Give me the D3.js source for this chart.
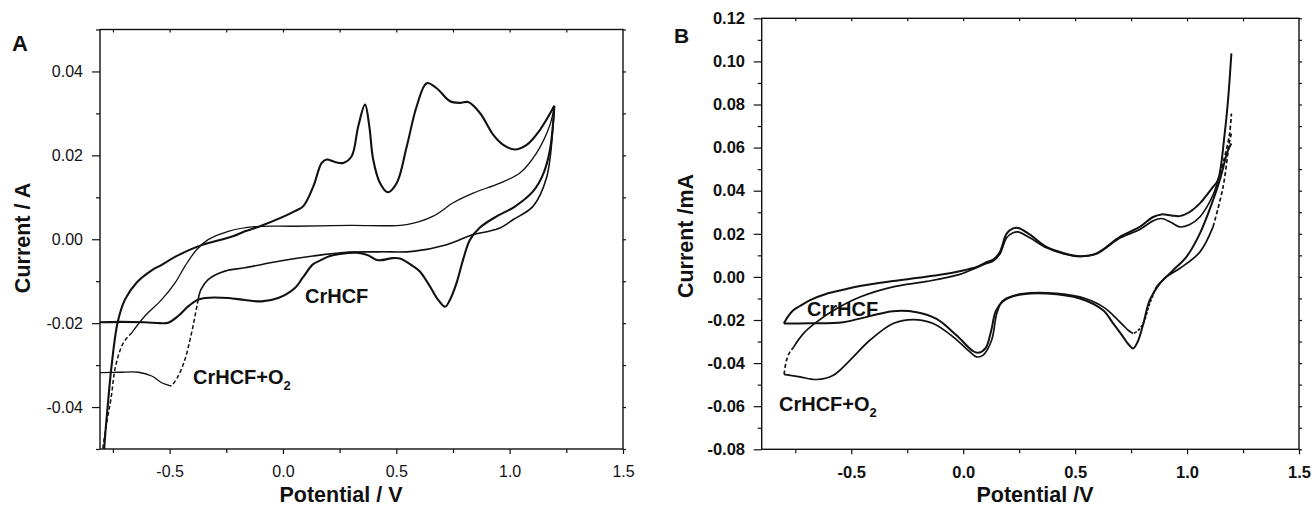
<!DOCTYPE html>
<html>
<head>
<meta charset="utf-8">
<script src="https://cdnjs.cloudflare.com/ajax/libs/d3/7.8.5/d3.min.js"></script>
<style>
  body { margin: 0; background: #fff; }
  svg { display: block; font-family: "Liberation Sans", Arial, Helvetica, sans-serif; }
</style>
</head>
<body>
<div id="chart"></div>
<script>
// ---- panel A : current (A) vs potential (V) ----
var aXTicks = [-0.5, 0.0, 0.5, 1.0, 1.5];
var aXMinor = [-0.75, -0.25, 0.25, 0.75, 1.25];
var aYTicks = [-0.04, -0.02, 0.00, 0.02, 0.04];
var aYMinor = [-0.05, -0.03, -0.01, 0.01, 0.03, 0.05];

// CrHCF, forward (anodic) scan
var aCrAnodic = [
  [-0.792, -0.056], [-0.788, -0.0496], [-0.773, -0.0398], [-0.756, -0.0302], [-0.729, -0.0198],
  [-0.697, -0.0144], [-0.645, -0.0103], [-0.579, -0.0074], [-0.535, -0.0061], [-0.476, -0.0042],
  [-0.374, -0.0017], [-0.221, 0.0007], [-0.168, 0.0019], [-0.101, 0.0031], [0.053, 0.0067],
  [0.090, 0.0079], [0.134, 0.0126], [0.171, 0.0182], [0.193, 0.0190], [0.230, 0.0184],
  [0.266, 0.0182], [0.303, 0.0198], [0.332, 0.0269], [0.362, 0.0321], [0.381, 0.0269],
  [0.398, 0.0190], [0.428, 0.0134], [0.462, 0.0112], [0.502, 0.0134], [0.546, 0.0221],
  [0.590, 0.0317], [0.634, 0.0372], [0.678, 0.0360], [0.737, 0.0329], [0.781, 0.0325],
  [0.817, 0.0327], [0.869, 0.0301], [0.928, 0.0249], [0.972, 0.0225], [1.023, 0.0214],
  [1.075, 0.0225], [1.134, 0.0261], [1.197, 0.0318]
];
// CrHCF, reverse (cathodic) scan, from 1.2 V back
var aCrCathodic = [
  [1.197, 0.0318], [1.178, 0.0214], [1.147, 0.0154], [1.103, 0.0114], [1.023, 0.0078],
  [0.944, 0.0055], [0.869, 0.0028], [0.825, -0.0001], [0.795, -0.0048], [0.766, -0.0104],
  [0.737, -0.0144], [0.715, -0.0161], [0.684, -0.0144], [0.648, -0.0112], [0.604, -0.0077],
  [0.573, -0.0064], [0.516, -0.0046], [0.485, -0.0045], [0.419, -0.0050], [0.375, -0.0038],
  [0.325, -0.0032], [0.251, -0.0035], [0.207, -0.0040], [0.163, -0.0051], [0.132, -0.0060],
  [0.088, -0.0091], [0.053, -0.0116], [-0.021, -0.0140], [-0.094, -0.0148], [-0.168, -0.0145],
  [-0.241, -0.0140], [-0.344, -0.0140], [-0.374, -0.0144], [-0.418, -0.0160], [-0.462, -0.0183],
  [-0.506, -0.0199], [-0.543, -0.0200], [-0.609, -0.0198], [-0.719, -0.0197], [-0.807, -0.0198],
  [-0.850, -0.0198]
];
// CrHCF + O2, anodic
var aO2Anodic = [
  [-0.800, -0.056], [-0.794, -0.0498], [-0.775, -0.0430], [-0.759, -0.0382], [-0.738, -0.0302],
  [-0.704, -0.0247], [-0.667, -0.0223], [-0.609, -0.0183], [-0.535, -0.0144], [-0.476, -0.0104],
  [-0.432, -0.0064], [-0.381, -0.0025], [-0.330, -0.0001], [-0.241, 0.0019], [-0.124, 0.0030],
  [0.053, 0.0031], [0.296, 0.0033], [0.546, 0.0035], [0.663, 0.0055], [0.751, 0.0087],
  [0.839, 0.0110], [0.957, 0.0134], [1.045, 0.0158], [1.119, 0.0206], [1.178, 0.0273],
  [1.197, 0.0318]
];
// CrHCF + O2, cathodic
var aO2Cathodic = [
  [1.197, 0.0318], [1.192, 0.0273], [1.163, 0.0147], [1.104, 0.0079], [1.016, 0.0047],
  [0.957, 0.0027], [0.899, 0.0018], [0.838, 0.0011], [0.722, -0.0013], [0.573, -0.0029],
  [0.428, -0.0030], [0.281, -0.0031], [0.132, -0.0040], [-0.013, -0.0052], [-0.168, -0.0068],
  [-0.256, -0.0076], [-0.330, -0.0096], [-0.362, -0.0120], [-0.374, -0.0144], [-0.403, -0.0223],
  [-0.432, -0.0286], [-0.462, -0.0326], [-0.491, -0.0350], [-0.535, -0.0342], [-0.579, -0.0326],
  [-0.638, -0.0317], [-0.719, -0.0317], [-0.807, -0.0318], [-0.850, -0.0318]
];

// ---- panel B : current (mA) vs potential (V) ----
var bXTicks = [-0.5, 0.0, 0.5, 1.0, 1.5];
var bXMinor = [-0.75, -0.25, 0.25, 0.75, 1.25];
var bYTicks = [-0.08, -0.06, -0.04, -0.02, 0.00, 0.02, 0.04, 0.06, 0.08, 0.10, 0.12];
var bYMinor = [-0.07, -0.05, -0.03, -0.01, 0.01, 0.03, 0.05, 0.07, 0.09, 0.11];

var bCrAnodic = [
  [-0.801, -0.0216], [-0.785, -0.0188], [-0.759, -0.0155], [-0.729, -0.0135], [-0.684, -0.0108],
  [-0.610, -0.0078], [-0.536, -0.0060], [-0.461, -0.0042], [-0.313, -0.0019], [-0.200, -0.0004],
  [-0.089, 0.0012], [0.000, 0.0030], [0.060, 0.0046], [0.104, 0.0068], [0.134, 0.0080],
  [0.164, 0.0116], [0.194, 0.0201], [0.223, 0.0225], [0.246, 0.0227], [0.300, 0.0195],
  [0.372, 0.0139], [0.450, 0.0110], [0.521, 0.0096], [0.595, 0.0109], [0.700, 0.0186],
  [0.789, 0.0232], [0.848, 0.0278], [0.886, 0.0290], [0.930, 0.0285], [0.967, 0.0282],
  [1.010, 0.0300], [1.057, 0.0341], [1.116, 0.0418], [1.138, 0.0449], [1.168, 0.0665],
  [1.183, 0.0820], [1.198, 0.1037]
];
var bCrCathodic = [
  [1.198, 0.0619], [1.183, 0.0588], [1.146, 0.0449], [1.116, 0.0356], [1.057, 0.0201],
  [0.997, 0.0093], [0.938, 0.0031], [0.878, -0.0031], [0.833, -0.0108], [0.804, -0.0220],
  [0.780, -0.0300], [0.759, -0.0332], [0.740, -0.0315], [0.714, -0.0278], [0.670, -0.0216],
  [0.625, -0.0155], [0.521, -0.0100], [0.372, -0.0077], [0.268, -0.0080], [0.210, -0.0095],
  [0.175, -0.0115], [0.145, -0.0160], [0.125, -0.0250], [0.100, -0.0330], [0.067, -0.0352],
  [0.045, -0.0345], [-0.030, -0.0271], [-0.119, -0.0195], [-0.208, -0.0164], [-0.313, -0.0159],
  [-0.417, -0.0182], [-0.536, -0.0210], [-0.684, -0.0215], [-0.801, -0.0216]
];
var bO2Anodic = [
  [-0.800, -0.0452], [-0.790, -0.0390], [-0.775, -0.0350], [-0.759, -0.0328], [-0.714, -0.0263],
  [-0.654, -0.0209], [-0.565, -0.0147], [-0.461, -0.0093], [-0.313, -0.0046], [-0.163, -0.0021],
  [-0.015, 0.0012], [0.060, 0.0043], [0.104, 0.0062], [0.134, 0.0074], [0.164, 0.0106],
  [0.194, 0.0182], [0.223, 0.0205], [0.246, 0.0209], [0.300, 0.0180], [0.372, 0.0135],
  [0.450, 0.0107], [0.521, 0.0095], [0.595, 0.0106], [0.700, 0.0180], [0.789, 0.0220],
  [0.848, 0.0260], [0.886, 0.0271], [0.930, 0.0252], [0.967, 0.0232], [1.010, 0.0242],
  [1.057, 0.0278], [1.116, 0.0380], [1.138, 0.0449], [1.168, 0.0557], [1.190, 0.0665],
  [1.198, 0.0758]
];
var bO2Cathodic = [
  [1.198, 0.0665], [1.190, 0.0630], [1.161, 0.0418], [1.116, 0.0232], [1.057, 0.0115],
  [0.967, 0.0039], [0.908, 0.0000], [0.863, -0.0046], [0.833, -0.0124], [0.804, -0.0216],
  [0.780, -0.0250], [0.759, -0.0263], [0.740, -0.0250], [0.714, -0.0224], [0.670, -0.0178],
  [0.625, -0.0139], [0.521, -0.0093], [0.372, -0.0074], [0.268, -0.0078], [0.210, -0.0092],
  [0.175, -0.0112], [0.150, -0.0170], [0.127, -0.0294], [0.089, -0.0363], [0.060, -0.0371],
  [0.030, -0.0348], [-0.045, -0.0278], [-0.134, -0.0216], [-0.223, -0.0198], [-0.313, -0.0216],
  [-0.417, -0.0294], [-0.506, -0.0387], [-0.580, -0.0456], [-0.654, -0.0476], [-0.729, -0.0464],
  [-0.800, -0.0452]
];

var w = 1312;
var h = 509;

var svg = d3.select("#chart")
  .append("svg")
  .attr("width", w)
  .attr("height", h);

// draws the frame, ticks and tick labels of one panel, returns the clipped group for curves
function drawFrame(p) {
  var g = svg.append("g");

  g.append("clipPath").attr("id", p.id + "-clip")
    .append("rect")
    .attr("x", p.left).attr("y", p.top)
    .attr("width", p.right - p.left).attr("height", p.bottom - p.top);

  var allY = p.yTicks.concat(p.yMinor);
  var topX = p.xTicks.concat(p.xMinor).filter(function(d) { return d < p.xDomain[1]; });

  function clean(sel) {
    sel.select(".domain").remove();
    sel.selectAll("line").attr("stroke", "#111").attr("stroke-width", 1.2);
  }

  // left: labelled majors + short minors
  g.append("g").attr("transform", "translate(" + p.left + ",0)")
    .call(d3.axisLeft(p.y).tickValues(p.yTicks).tickSize(8).tickPadding(p.yPad)
      .tickFormat(function(d) { return d.toFixed(2); }))
    .call(clean)
    .selectAll("text")
      .attr("font-family", null)
      .style("font-size", p.tickFont + "px")
      .style("font-weight", p.tickWeight)
      .attr("fill", "#111");
  g.append("g").attr("transform", "translate(" + p.left + ",0)")
    .call(d3.axisLeft(p.y).tickValues(p.yMinor).tickSize(4).tickFormat(""))
    .call(clean);

  // bottom
  g.append("g").attr("transform", "translate(0," + p.bottom + ")")
    .call(d3.axisBottom(p.x).tickValues(p.xTicks).tickSize(5).tickPadding(p.xPad)
      .tickFormat(function(d) { return d.toFixed(1); }))
    .call(clean)
    .selectAll("text")
      .attr("font-family", null)
      .style("font-size", p.tickFont + "px")
      .style("font-weight", p.tickWeight)
      .attr("fill", "#111");
  g.append("g").attr("transform", "translate(0," + p.bottom + ")")
    .call(d3.axisBottom(p.x).tickValues(p.xMinor).tickSize(4).tickFormat(""))
    .call(clean);

  // right and top: small unlabelled ticks
  g.append("g").attr("transform", "translate(" + p.right + ",0)")
    .call(d3.axisRight(p.y).tickValues(allY).tickSize(3).tickFormat(""))
    .call(clean);
  g.append("g").attr("transform", "translate(0," + p.top + ")")
    .call(d3.axisTop(p.x).tickValues(topX).tickSize(-3).tickFormat(""))
    .call(clean);

  g.append("rect")
    .attr("x", p.left).attr("y", p.top)
    .attr("width", p.right - p.left).attr("height", p.bottom - p.top)
    .attr("fill", "none").attr("stroke", "#111").attr("stroke-width", 1.4);

  return g.append("g").attr("clip-path", "url(#" + p.id + "-clip)");
}

// draw points [from..to] of a branch
function drawBranch(g, p, pts, from, to, width, dash) {
  var line = d3.line()
    .x(function(d) { return p.x(d[0]); })
    .y(function(d) { return p.y(d[1]); })
    .curve(d3.curveCatmullRom.alpha(0.5));
  g.append("path")
    .datum(pts.slice(from, to + 1))
    .attr("d", line)
    .attr("fill", "none")
    .attr("stroke", "#111")
    .attr("stroke-width", width)
    .attr("stroke-linejoin", "round")
    .attr("stroke-dasharray", dash || null);
}

function addText(x, y, str, size, rotate, anchor) {
  var t = svg.append("text")
    .attr("font-size", size + "px")
    .attr("font-weight", "bold")
    .attr("fill", "#111")
    .attr("text-anchor", anchor || "start")
    .text(str);
  if (rotate) t.attr("transform", "translate(" + x + "," + y + ") rotate(-90)");
  else t.attr("x", x).attr("y", y);
  return t;
}

function addO2Label(x, y) {
  var t = svg.append("text")
    .attr("x", x).attr("y", y)
    .attr("font-size", "20px")
    .attr("font-weight", "bold")
    .attr("fill", "#111");
  t.append("tspan").text("CrHCF+O");
  t.append("tspan").attr("dy", 6).attr("font-size", "13px").text("2");
}

// ---------------- panel A ----------------
var pA = { id: "pa", left: 100, right: 623, top: 29.5, bottom: 449,
  xDomain: [-0.807, 1.5], yDomain: [-0.05, 0.05],
  xTicks: aXTicks, xMinor: aXMinor, yTicks: aYTicks, yMinor: aYMinor,
  tickFont: 16, tickWeight: "normal", yPad: 9, xPad: 12 };
pA.x = d3.scaleLinear().domain(pA.xDomain).range([pA.left, pA.right]);
pA.y = d3.scaleLinear().domain(pA.yDomain).range([pA.bottom, pA.top]);
var gA = drawFrame(pA);

drawBranch(gA, pA, aO2Anodic, 0, 6, 1.5, "4,2.5");
drawBranch(gA, pA, aO2Anodic, 6, aO2Anodic.length - 1, 1.3);
drawBranch(gA, pA, aO2Cathodic, 0, 18, 1.6);
drawBranch(gA, pA, aO2Cathodic, 18, 22, 1.5, "4,2.5");
drawBranch(gA, pA, aO2Cathodic, 22, aO2Cathodic.length - 1, 1.3);
drawBranch(gA, pA, aCrAnodic, 0, aCrAnodic.length - 1, 2.1);
drawBranch(gA, pA, aCrCathodic, 0, aCrCathodic.length - 1, 2.1);

addText(12, 50.5, "A", 22);
addText(30, 238, "Current / A", 21.5, true, "middle");
addText(341, 502, "Potential / V", 21.5, false, "middle");
addText(305, 303, "CrHCF", 20);
addO2Label(193, 384);

// ---------------- panel B ----------------
var pB = { id: "pb", left: 761.7, right: 1299, top: 18.3, bottom: 449.3,
  xDomain: [-0.9, 1.5], yDomain: [-0.08, 0.12],
  xTicks: bXTicks, xMinor: bXMinor, yTicks: bYTicks, yMinor: bYMinor,
  tickFont: 16.5, tickWeight: "bold", yPad: 8.7, xPad: 12 };
pB.x = d3.scaleLinear().domain(pB.xDomain).range([pB.left, pB.right]);
pB.y = d3.scaleLinear().domain(pB.yDomain).range([pB.bottom, pB.top]);
var gB = drawFrame(pB);

drawBranch(gB, pB, bO2Anodic, 0, 3, 1.7, "4,2.5");
drawBranch(gB, pB, bO2Anodic, 3, 32, 1.7);
drawBranch(gB, pB, bO2Anodic, 32, bO2Anodic.length - 1, 1.7, "4,2.5");
drawBranch(gB, pB, bO2Cathodic, 0, 3, 1.7, "4,2.5");
drawBranch(gB, pB, bO2Cathodic, 3, 7, 1.7);
drawBranch(gB, pB, bO2Cathodic, 7, 11, 1.7, "3,1.5");
drawBranch(gB, pB, bO2Cathodic, 11, bO2Cathodic.length - 1, 1.7);
drawBranch(gB, pB, bCrAnodic, 0, bCrAnodic.length - 1, 2);
drawBranch(gB, pB, bCrCathodic, 0, bCrCathodic.length - 1, 2);

addText(674, 43, "B", 21);
addText(693, 236, "Current /mA", 21.5, true, "middle");
addText(1035, 502, "Potential /V", 21.5, false, "middle");
addText(807, 316, "CrrHCF", 20);
addO2Label(779, 411);
</script>
</body>
</html>
